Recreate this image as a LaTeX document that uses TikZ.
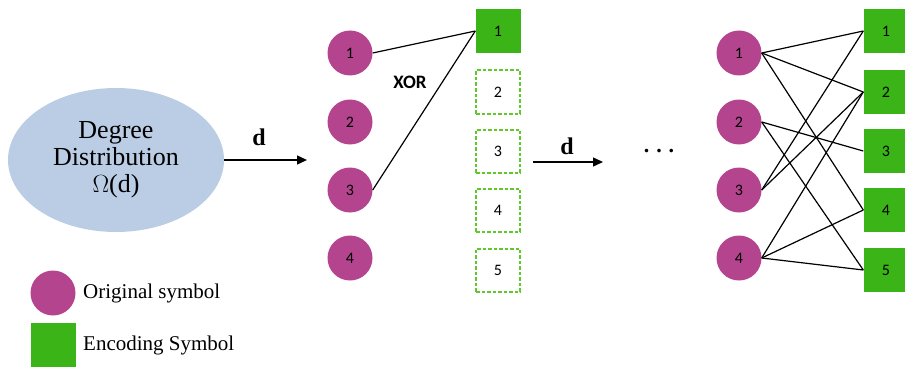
\documentclass[tikz,border=0pt]{standalone}
\usepackage{fontspec}
\setmainfont{Liberation Serif}
\newfontfamily\numfont{Carlito}
\usetikzlibrary{shapes.geometric,arrows.meta}
\definecolor{origc}{RGB}{180,68,142}
\definecolor{encc}{RGB}{58,180,22}
\definecolor{dashc}{RGB}{95,200,45}
\definecolor{ellc}{RGB}{186,205,229}
\tikzset{
  orig/.style={circle,fill=origc,minimum size=45pt,inner sep=0pt,font=\numfont\fontsize{16}{16}\selectfont},
  enc/.style={rectangle,fill=encc,minimum width=45pt,minimum height=44pt,inner sep=0pt,font=\numfont\fontsize{16}{16}\selectfont},
  encdash/.style={rectangle,draw=dashc,line width=2pt,dash pattern=on 3.5pt off 2pt,minimum width=44pt,minimum height=43pt,inner sep=0pt,font=\numfont\fontsize{16}{16}\selectfont},
  link/.style={draw=black,line width=1.2pt},
  arr/.style={draw=black,line width=1.3pt,-{Triangle[length=10pt,width=9pt]}},
  dlab/.style={font=\bfseries\fontsize{24}{24}\selectfont},
  legtxt/.style={anchor=west,font=\fontsize{21}{21}\selectfont,inner sep=0pt}
}
\begin{document}
\begin{tikzpicture}[x=1pt,y=-1pt]
\useasboundingbox (0,0) rectangle (905,369);
% ellipse
\node[ellipse,fill=ellc,minimum width=216pt,minimum height=144pt,inner sep=0pt,align=center,
  font=\fontsize{26}{27}\selectfont] (ell) at (116,160) {Degree\\Distribution\\$\Omega$(d)};
\coordinate (a1) at (307,160);
\draw[arr] (ell.east) -- (a1);
\node[dlab] (d1) at (259,137) {d};
% middle column
\node[orig] (m1) at (350,53) {1};
\node[orig] (m2) at (350,122) {2};
\node[orig] (m3) at (350,190) {3};
\node[orig] (m4) at (350,258) {4};
\node[enc] (ms1) at (498,31) {1};
\node[encdash] (ms2) at (498,92) {2};
\node[encdash] (ms3) at (498,151) {3};
\node[encdash] (ms4) at (498,210) {4};
\node[encdash] (ms5) at (498,270) {5};
\draw[link] (m1.east) -- (ms1.west);
\draw[link] (m3.east) -- (ms1.west);
\node[font=\numfont\bfseries\fontsize{19}{19}\selectfont] (xor) at (410,82) {XOR};
% arrow 2
\coordinate (b0) at (533,162);
\coordinate (b1) at (603,162);
\draw[arr] (b0) -- (b1);
\node[dlab] (d2) at (567,146) {d};
\node[font=\bfseries\fontsize{22}{22}\selectfont] (dots) at (659,151) {.\hspace{7pt}.\hspace{7pt}.};
% right column
\node[orig] (r1) at (739,53) {1};
\node[orig] (r2) at (739,122) {2};
\node[orig] (r3) at (739,190) {3};
\node[orig] (r4) at (739,258) {4};
\node[enc] (s1) at (886,31) {1};
\node[enc] (s2) at (886,92) {2};
\node[enc] (s3) at (886,151) {3};
\node[enc] (s4) at (886,210) {4};
\node[enc] (s5) at (886,270) {5};
\draw[link] (r1.east) -- (s1.west);
\draw[link] (r1.east) -- (s2.west);
\draw[link] (r1.east) -- (s4.west);
\draw[link] (r2.east) -- (s3.west);
\draw[link] (r2.east) -- (s5.west);
\draw[link] (r3.east) -- (s1.west);
\draw[link] (r3.east) -- (s2.west);
\draw[link] (r4.east) -- (s2.west);
\draw[link] (r4.east) -- (s4.west);
\draw[link] (r4.east) -- (s5.west);
% legend
\node[orig] (lc) at (53,293) {};
\node[enc] (ls) at (53,345) {};
\node[legtxt] (lt1) at (83,293) {Original symbol};
\node[legtxt] (lt2) at (83,345) {Encoding Symbol};
\end{tikzpicture}
\end{document}
